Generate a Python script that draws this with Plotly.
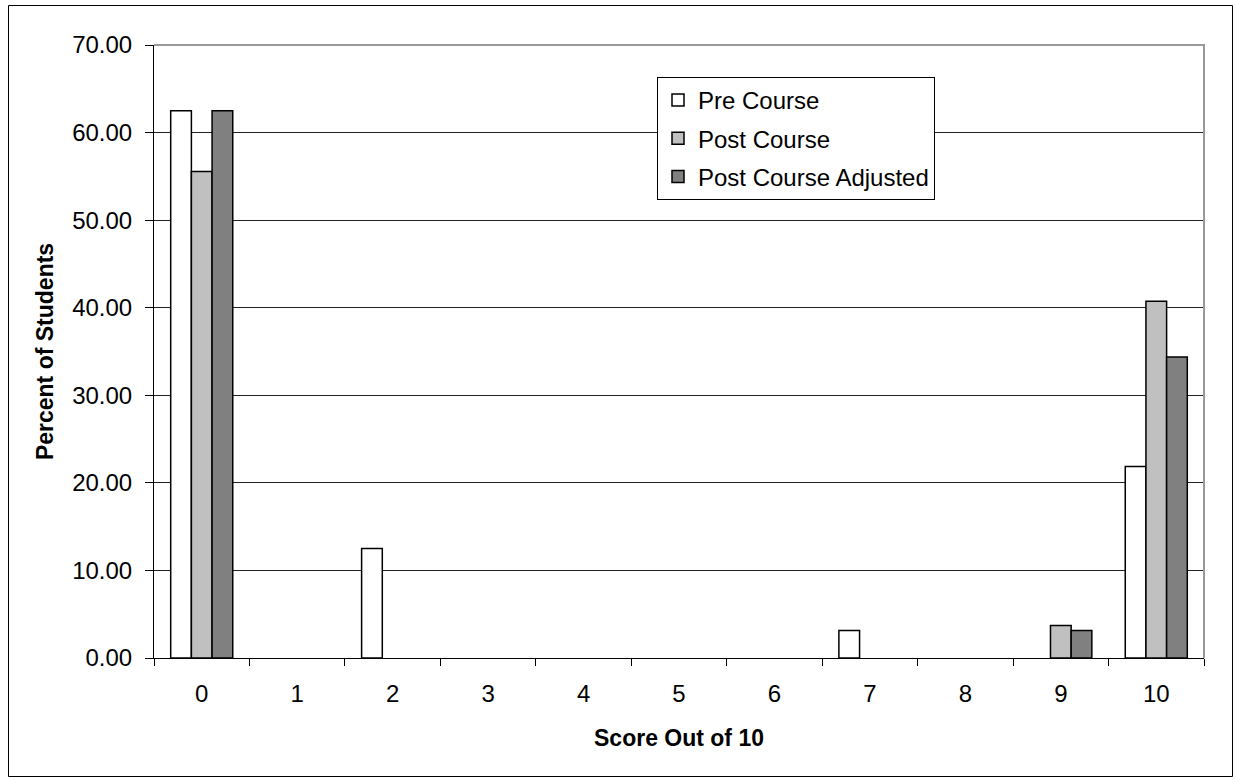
import plotly.graph_objects as go

categories = ["0", "1", "2", "3", "4", "5", "6", "7", "8", "9", "10"]
pre_course = [62.5, 0, 12.5, 0, 0, 0, 0, 3.13, 0, 0, 21.88]
post_course = [55.56, 0, 0, 0, 0, 0, 0, 0, 0, 3.70, 40.74]
post_adjusted = [62.5, 0, 0, 0, 0, 0, 0, 0, 0, 3.13, 34.38]
y_ticks = [0, 10, 20, 30, 40, 50, 60, 70]

W, H = 1236, 780
ML, MR, MT, MB = 154, 32, 45, 122
PW, PH = W - ML - MR, H - MT - MB

FONT = "Liberation Sans, Arial, sans-serif"

fig = go.Figure()
for i, (name, vals, col) in enumerate([("Pre Course", pre_course, "#FFFFFF"),
                                       ("Post Course", post_course, "#C0C0C0"),
                                       ("Post Course Adjusted", post_adjusted, "#808080")]):
    fig.add_trace(go.Bar(x=categories, y=[v if v else None for v in vals], name=name,
                         legendgroup=f"g{i}",
                         marker=dict(color=col, line=dict(color="black", width=1.5))))

def px_x(p):
    return (p - ML) / PW

def px_y(p):
    return (H - MB - p) / PH

fig.update_layout(
    width=W, height=H,
    margin=dict(l=ML, r=MR, t=MT, b=MB),
    paper_bgcolor="white", plot_bgcolor="white",
    barmode="group", bargap=0.35, bargroupgap=0,
    font=dict(family=FONT, size=24, color="black"),
    legend=dict(x=px_x(657), y=px_y(77), xanchor="left", yanchor="top",
                bordercolor="black", borderwidth=1, bgcolor="white",
                font=dict(size=24), traceorder="grouped", tracegroupgap=4,
                itemwidth=30),
    xaxis=dict(type="category", tickson="boundaries", ticks="outside", ticklen=7,
               tickcolor="black", showline=True, linecolor="black", linewidth=1,
               showgrid=False, ticklabelstandoff=14,
               title=dict(text="<b>Score Out of 10</b>", font=dict(size=23), standoff=24)),
    yaxis=dict(range=[0, 70], tickvals=y_ticks, tickformat=".2f", ticks="outside",
               ticklen=8, tickcolor="black", showline=True, linecolor="black",
               linewidth=1, showgrid=True, gridcolor="#222222", gridwidth=1,
               zeroline=False, ticklabelstandoff=8,
               title=dict(text="<b>Percent of Students</b>", font=dict(size=23), standoff=12)),
    shapes=[
        dict(type="path", xref="paper", yref="paper",
             path="M 0,1 L 1,1 L 1,0", line=dict(color="#999999", width=2), layer="above"),
        dict(type="rect", xref="paper", yref="paper",
             x0=px_x(8.5), x1=px_x(1232.5), y0=px_y(776.5), y1=px_y(5.5),
             line=dict(color="black", width=1)),
    ],
)

fig.write_html("out.html", config={"displayModeBar": False},
               post_script="document.body.style.margin='0';")
